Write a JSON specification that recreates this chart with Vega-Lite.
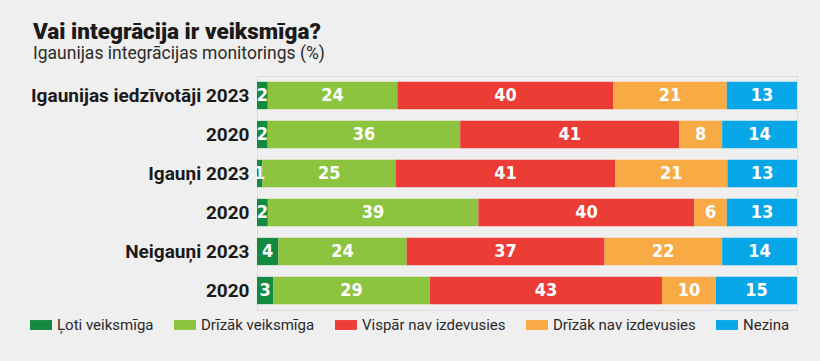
{
  "$schema": "https://vega.github.io/schema/vega-lite/v6.json",
  "width": 540,
  "height": 234,
  "autosize": {"type": "none"},
  "padding": {"left": 257, "top": 76, "right": 23, "bottom": 51},
  "background": "#efefef",
  "title": {
    "text": "Vai integrācija ir veiksmīga?",
    "subtitle": "Igaunijas integrācijas monitorings (%)",
    "anchor": "start",
    "frame": "group",
    "dx": -224,
    "offset": 14,
    "font": "Roboto",
    "fontSize": 22.5,
    "fontWeight": 900,
    "color": "#1a1a1a",
    "subtitleFont": "Roboto",
    "subtitleFontSize": 17.5,
    "subtitleColor": "#2a2a2a",
    "subtitlePadding": 1
  },
  "data": {
    "values": [
      {"row": "Igaunijas iedzīvotāji 2023", "cat": "Ļoti veiksmīga", "o": 1, "v": 2},
      {"row": "Igaunijas iedzīvotāji 2023", "cat": "Drīzāk veiksmīga", "o": 2, "v": 24},
      {"row": "Igaunijas iedzīvotāji 2023", "cat": "Vispār nav izdevusies", "o": 3, "v": 40},
      {"row": "Igaunijas iedzīvotāji 2023", "cat": "Drīzāk nav izdevusies", "o": 4, "v": 21},
      {"row": "Igaunijas iedzīvotāji 2023", "cat": "Nezina", "o": 5, "v": 13},
      {"row": "Igaunijas iedzīvotāji 2020", "cat": "Ļoti veiksmīga", "o": 1, "v": 2},
      {"row": "Igaunijas iedzīvotāji 2020", "cat": "Drīzāk veiksmīga", "o": 2, "v": 36},
      {"row": "Igaunijas iedzīvotāji 2020", "cat": "Vispār nav izdevusies", "o": 3, "v": 41},
      {"row": "Igaunijas iedzīvotāji 2020", "cat": "Drīzāk nav izdevusies", "o": 4, "v": 8},
      {"row": "Igaunijas iedzīvotāji 2020", "cat": "Nezina", "o": 5, "v": 14},
      {"row": "Igauņi 2023", "cat": "Ļoti veiksmīga", "o": 1, "v": 1},
      {"row": "Igauņi 2023", "cat": "Drīzāk veiksmīga", "o": 2, "v": 25},
      {"row": "Igauņi 2023", "cat": "Vispār nav izdevusies", "o": 3, "v": 41},
      {"row": "Igauņi 2023", "cat": "Drīzāk nav izdevusies", "o": 4, "v": 21},
      {"row": "Igauņi 2023", "cat": "Nezina", "o": 5, "v": 13},
      {"row": "Igauņi 2020", "cat": "Ļoti veiksmīga", "o": 1, "v": 2},
      {"row": "Igauņi 2020", "cat": "Drīzāk veiksmīga", "o": 2, "v": 39},
      {"row": "Igauņi 2020", "cat": "Vispār nav izdevusies", "o": 3, "v": 40},
      {"row": "Igauņi 2020", "cat": "Drīzāk nav izdevusies", "o": 4, "v": 6},
      {"row": "Igauņi 2020", "cat": "Nezina", "o": 5, "v": 13},
      {"row": "Neigauņi 2023", "cat": "Ļoti veiksmīga", "o": 1, "v": 4},
      {"row": "Neigauņi 2023", "cat": "Drīzāk veiksmīga", "o": 2, "v": 24},
      {"row": "Neigauņi 2023", "cat": "Vispār nav izdevusies", "o": 3, "v": 37},
      {"row": "Neigauņi 2023", "cat": "Drīzāk nav izdevusies", "o": 4, "v": 22},
      {"row": "Neigauņi 2023", "cat": "Nezina", "o": 5, "v": 14},
      {"row": "Neigauņi 2020", "cat": "Ļoti veiksmīga", "o": 1, "v": 3},
      {"row": "Neigauņi 2020", "cat": "Drīzāk veiksmīga", "o": 2, "v": 29},
      {"row": "Neigauņi 2020", "cat": "Vispār nav izdevusies", "o": 3, "v": 43},
      {"row": "Neigauņi 2020", "cat": "Drīzāk nav izdevusies", "o": 4, "v": 10},
      {"row": "Neigauņi 2020", "cat": "Nezina", "o": 5, "v": 15}
    ]
  },
  "transform": [
    {"stack": "v", "groupby": ["row"], "sort": [{"field": "o", "order": "ascending"}], "as": ["x0", "x1"], "offset": "normalize"}
  ],
  "encoding": {
    "y": {
      "field": "row",
      "type": "nominal",
      "sort": null,
      "scale": {"paddingInner": 0.3, "paddingOuter": 0.15},
      "axis": {
        "title": null,
        "domain": false,
        "ticks": false,
        "labelPadding": 8,
        "labelFont": "Roboto",
        "labelFontSize": 19,
        "labelFontWeight": "bold",
        "labelColor": "#1a1a1a",
        "labelLimit": 300,
        "labelExpr": "indexof(datum.label, '2020') >= 0 ? '2020' : datum.label"
      }
    }
  },
  "layer": [
    {
      "mark": {"type": "bar"},
      "encoding": {
        "x": {"field": "x0", "type": "quantitative", "scale": {"domain": [0, 1]}, "axis": null},
        "x2": {"field": "x1"},
        "color": {
          "field": "cat",
          "type": "nominal",
          "scale": {
            "domain": ["Ļoti veiksmīga", "Drīzāk veiksmīga", "Vispār nav izdevusies", "Drīzāk nav izdevusies", "Nezina"],
            "range": ["#138a3f", "#8cc43f", "#ec3c36", "#f8ab44", "#07a7e7"]
          },
          "legend": {
            "title": null,
            "orient": "none",
            "direction": "horizontal",
            "legendX": -227,
            "legendY": 238,
            "padding": 0,
            "columnPadding": 20,
            "symbolType": "M-1,-0.45H1V0.45H-1Z",
            "symbolSize": 484,
            "symbolStrokeWidth": 0,
            "symbolOpacity": 1,
            "labelOffset": 5,
            "labelFont": "Roboto",
            "labelFontSize": 15,
            "labelColor": "#2a2a2a",
            "labelLimit": 300
          }
        }
      }
    },
    {
      "transform": [
        {"fold": ["x0", "x1"], "as": ["edge", "xv"]},
        {"aggregate": [{"op": "mean", "field": "xv", "as": "mid"}, {"op": "max", "field": "v", "as": "val"}], "groupby": ["row", "cat"]}
      ],
      "mark": {"type": "text", "font": "DejaVu Sans Condensed, Roboto Condensed, Arial Narrow, Roboto", "fontWeight": "bold", "fontSize": 18, "color": "white", "baseline": "middle", "align": "center"},
      "encoding": {
        "x": {"field": "mid", "type": "quantitative"},
        "text": {"field": "val", "type": "quantitative"}
      }
    }
  ]
}
